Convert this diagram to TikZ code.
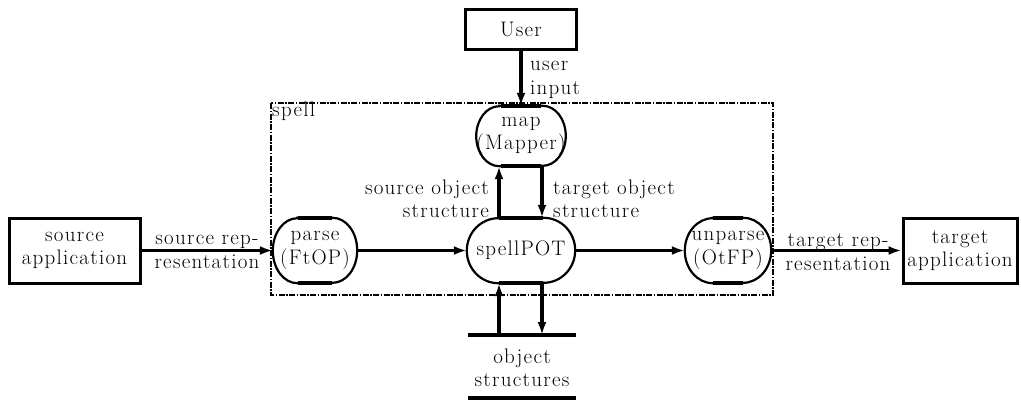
\documentclass[tikz,border=0pt]{standalone}
\usepackage{fontspec}
\setmainfont{Latin Modern Roman}[LetterSpace=6]
\usetikzlibrary{arrows.meta}
\newcommand\procoutline[4]{% name, rx, ry, flat width
  \draw[procline] ([xshift=#2]#1.north west) -- ([xshift=-#2]#1.north east)
    arc[start angle=90,end angle=-90,x radius=#2,y radius=#3]
    -- ([xshift=#2]#1.south west)
    arc[start angle=270,end angle=90,x radius=#2,y radius=#3] -- cycle;
  \draw[flat] ([xshift=-#4]#1.north) -- ([xshift=#4]#1.north);
  \draw[flat] ([xshift=-#4]#1.south) -- ([xshift=#4]#1.south);}
\begin{document}
\begin{tikzpicture}[x=1pt,y=-1pt,
  every node/.style={font=\fontsize{21}{23.5}\selectfont, inner sep=0pt},
  box/.style={draw, line width=3pt, align=center},
  proc/.style={align=center},
  procline/.style={line width=2.2pt},
  flat/.style={line width=3.6pt},
  store/.style={line width=4pt},
  arr/.style={line width=3.2pt, -{Latex[length=13pt,width=9pt]}},
  lbl/.style={align=center},
  frame/.style={line width=2.5pt, dash pattern=on 6pt off 1.5pt on 1.5pt off 1.5pt}]
\useasboundingbox (0,0) rectangle (1021,402);
% boxes
\node[box, minimum width=131pt, minimum height=65pt] (src) at (74.5,250.5) {source\\application};
\node[box, minimum width=114pt, minimum height=65pt] (tgt) at (960,250.5) {target\\application};
\node[box, minimum width=111pt, minimum height=40pt] (user) at (521,29) {User};
% spell frame
\draw[frame] (271,103) rectangle (773,295);
\node[anchor=north west, inner sep=1pt] (spelllbl) at (271,101) {spell};
% processes
\node[proc, minimum width=84pt, minimum height=65pt] (parse) at (315,250.5) {parse\\(FtOP)};
\node[proc, minimum width=108pt, minimum height=65pt] (pot) at (521,250.5) {spellPOT};
\node[proc, minimum width=86pt, minimum height=65pt] (unparse) at (728,250.5) {unparse\\(OtFP)};
\node[proc, minimum width=86pt, minimum height=60pt] (map) at (521,136) {map\\(Mapper)};
\procoutline{parse}{24.5pt}{32.5pt}{17pt}
\procoutline{pot}{31.5pt}{32.5pt}{22pt}
\procoutline{unparse}{28pt}{32.5pt}{15pt}
\procoutline{map}{23pt}{30pt}{20pt}
% object structures store
\node[lbl, minimum width=108pt] (obj) at (522,368) {object\\structures};
\coordinate (st1) at (468,335); \coordinate (st2) at (576,335);
\coordinate (sb1) at (468,398); \coordinate (sb2) at (576,398);
\draw[store] (st1) -- (st2);
\draw[store] (sb1) -- (sb2);
\coordinate (osup) at ([xshift=-22pt]pot.south |- st1);
\coordinate (osdn) at ([xshift=21pt]pot.south |- st1);
% connectors
\draw[arr] (src.east) -- (parse.west);
\draw[arr] (parse.east) -- (pot.west);
\draw[arr] (pot.east) -- (unparse.west);
\draw[arr] (unparse.east) -- (tgt.west);
\draw[arr] (user.south) -- (map.north);
\draw[arr] ([xshift=-22pt]pot.north) -- ([xshift=-22pt]map.south);
\draw[arr] ([xshift=21pt]map.south) -- ([xshift=21pt]pot.north);
\draw[arr] (osup) -- ([xshift=-22pt]pot.south);
\draw[arr] ([xshift=21pt]pot.south) -- (osdn);
% labels
\node[lbl] (l1) at (207,252) {source rep-\\resentation};
\node[lbl] (l2) at (838,252) {target rep-\\resentation};
\node[align=left, anchor=west] (l3) at (530,80) {user\\input};
\node[align=right, anchor=east] (l4) at (489,199) {source object\\structure};
\node[align=left, anchor=west] (l5) at (553,199) {target object\\structure};
\end{tikzpicture}
\end{document}
